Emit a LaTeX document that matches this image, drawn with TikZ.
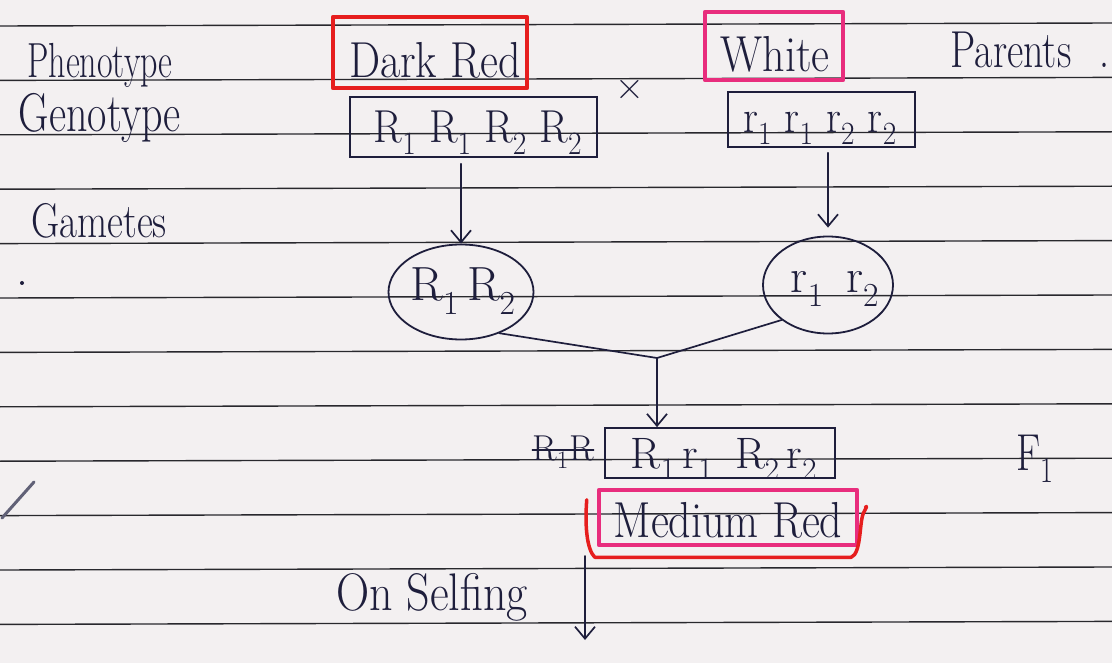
\documentclass[tikz,border=0pt]{standalone}
\usetikzlibrary{arrows.meta,calc,shapes.geometric}
\definecolor{ink}{RGB}{30,30,60}
\definecolor{redpen}{RGB}{230,30,30}
\definecolor{pinkpen}{RGB}{232,45,125}
\definecolor{paper}{RGB}{243,240,241}
\definecolor{ruling}{RGB}{40,40,45}
\newcommand\penfont[1]{\fontsize{#1}{#1}\selectfont}
\newcommand\sub[1]{\textsubscript{#1}}
\newcommand\tall[2][1.3]{\scalebox{1}[#1]{#2}}
\begin{document}
\begin{tikzpicture}[x=1pt,y=-1pt,
  every node/.style={text=ink, inner sep=0pt},
  inkline/.style={draw=ink, line width=1.7pt, line cap=round, line join=round},
  arr/.style={inkline, -{Straight Barb[length=12pt,width=20pt,line width=1.7pt]}},
  redbox/.style={draw=redpen, line width=4.5pt, line join=round},
  pinkbox/.style={draw=pinkpen, line width=4.5pt, line join=round},
  genebox/.style={draw=ink, line width=1.7pt},
  gamete/.style={ellipse, draw=ink, line width=1.8pt},
  lbl/.style={anchor=base, font=\penfont{32}},
]
% page and ruling
\fill[paper] (0,0) rectangle (1112,663);
\useasboundingbox (0,0) rectangle (1112,663);
\foreach \k in {0,...,11}
  \draw[ruling, line width=1.4pt] (0,{26+54.4*\k}) -- (1112,{23+54.4*\k});

% row labels
\node[lbl, font=\penfont{34}] (pheno) at (100,78) {\tall[1.45]{Phenotype}};
\node[lbl, font=\penfont{42}] (geno) at (100,132) {\tall[1.3]{Genotype}};
\node[lbl, font=\penfont{39}] (gam) at (99,238) {\tall[1.25]{Gametes}};
\node[lbl, font=\penfont{40}] (parents) at (1030,68) {\tall{Parents\hspace{28pt}.}};
\node[lbl, font=\penfont{40}] (fone) at (1035,470) {\tall{F\sub{1}}};

% parents
\node[redbox, minimum width=194, minimum height=71] (drbox) at (430,52.5) {};
\node[lbl, font=\penfont{44}] (dr) at (435,78) {\tall[1.15]{Dark Red}};
\node[genebox, minimum width=247, minimum height=60] (drg) at (473.5,127) {};
\node[lbl, font=\penfont{42}] (drgt) at (478,143) {\tall[1.1]{R\sub{1} R\sub{1} R\sub{2} R\sub{2}}};
\node[lbl, font=\penfont{40}] (cross) at (630,100) {\texttimes};
\node[pinkbox, minimum width=138, minimum height=68] (whbox) at (774,46) {};
\node[lbl, font=\penfont{44}] (wh) at (775,72) {\tall[1.15]{White}};
\node[genebox, minimum width=187, minimum height=55] (whg) at (821.5,119.5) {};
\node[lbl, font=\penfont{42}] (whgt) at (820,133) {\tall[1.1]{r\sub{1} r\sub{1} r\sub{2} r\sub{2}}};

% gametes
\node[gamete, minimum width=145, minimum height=95] (ga) at (461,292) {};
\node[lbl, font=\penfont{48}] (gat) at (463,301) {R\sub{1}\,R\sub{2}};
\node[gamete, minimum width=130, minimum height=97] (gb) at (828,285) {};
\node[lbl, font=\penfont{48}] (gbt) at (835,293) {r\sub{1}\, r\sub{2}};

\draw[arr, shorten <=6pt] (drg.south -| ga.north) -- (ga.north);
\draw[arr, shorten <=5pt, shorten >=8pt] (whg.south -| gb.north) -- (gb.north);

% F1
\coordinate (join) at (657,358);
\node[genebox, minimum width=230, minimum height=50] (f1g) at (720,453) {};
\node[lbl, font=\penfont{44}] (f1gt) at (724,468) {R\sub{1}\,r\sub{1}\enspace R\sub{2}\,r\sub{2}};
\node[lbl, font=\penfont{36}] (struck) at (563,460) {R\sub{1}R};
\draw[inkline, line width=1.3pt] ([yshift=10pt]struck.base west) -- ([yshift=10pt]struck.base east);
\draw[inkline] (ga.-47) -- (join) -- (gb.-143);
\draw[arr] (join) -- (join |- f1g.north);

\node[pinkbox, minimum width=258, minimum height=55] (mrbox) at (728,517.5) {};
\node[lbl, font=\penfont{44}] (mr) at (728,537) {\tall[1.15]{Medium Red}};
\draw[redpen, line width=3.5pt, line cap=round, line join=round]
  ($(mrbox.north west)+(-10,12)$) .. controls ($(mrbox.west)+(-12,8)$) and ($(mrbox.south west)+(-10,2)$) ..
  ($(mrbox.south west)+(-2,10)$) -- ($(mrbox.south east)+(-8,10)$)
  .. controls ($(mrbox.south east)+(2,6)$) and ($(mrbox.east)+(0,6)$) .. ($(mrbox.east)+(4,-4)$)
  .. controls ($(mrbox.east)+(8,-12)$) .. ($(mrbox.north east)+(6,20)$);

% selfing
\node[lbl, font=\penfont{46}] (self) at (432,610) {\tall[1.15]{On Selfing}};
\coordinate (selfa) at (585,556);
\coordinate (selfb) at (585,640);
\draw[arr] (selfa) -- (selfb);

% stray pen mark at the margin
\draw[ink!70, line width=3pt, line cap=round] (2,518) -- (34,482);
\fill[ink] (22,283) circle (2);
\end{tikzpicture}
\end{document}
